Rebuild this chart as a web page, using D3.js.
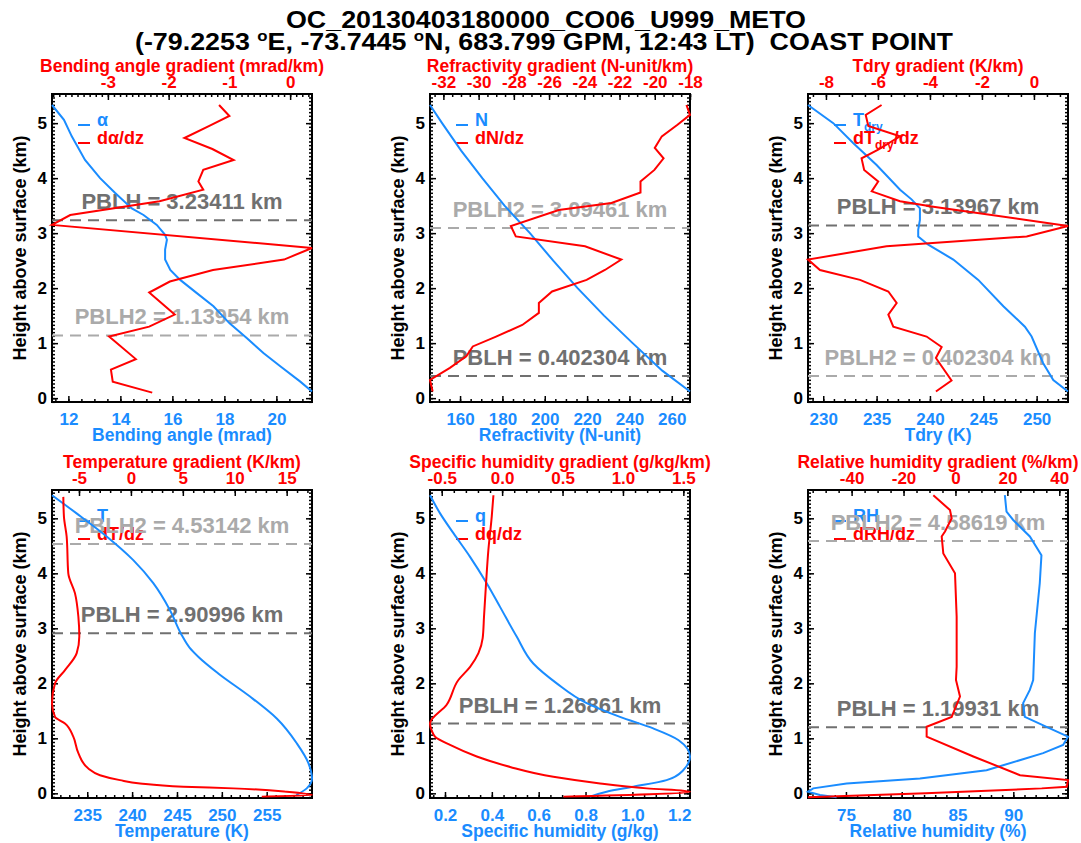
<!DOCTYPE html>
<html>
<head>
<meta charset="utf-8">
<script src="https://cdn.jsdelivr.net/npm/d3@7"></script>
<style>
  body { margin: 0; background: #fff; }
  svg text { font-family: "Liberation Sans", Arial, Helvetica, sans-serif; font-weight: bold; }
</style>
</head>
<body>
<svg id="chart" width="1081" height="843"></svg>
<script>
// values (height above surface in km)
var alphaH = [5.33, 5.06, 4.76, 4.33, 4.0, 3.73, 3.45, 3.33, 3.15, 2.97, 2.88, 2.70, 2.52, 2.33, 2.15, 1.91, 1.67, 1.36, 1.09, 0.82, 0.58, 0.30, 0.12];
var alphaV = [11.37, 11.83, 12.13, 12.64, 13.22, 13.8, 14.44, 14.89, 15.4, 15.72, 15.79, 15.72, 15.72, 15.92, 16.3, 16.94, 17.58, 18.2, 18.87, 19.5, 20.15, 20.92, 21.37];
var dAlphaH = [5.33, 5.13, 4.95, 4.73, 4.53, 4.33, 4.15, 3.94, 3.79, 3.58, 3.33, 3.15, 2.73, 2.52, 2.33, 2.12, 1.92, 1.52, 1.30, 1.12, 0.71, 0.52, 0.30, 0.10];
var dAlphaV = [-1.17, -1.0, -1.33, -1.74, -1.28, -0.93, -1.43, -1.51, -1.43, -2.15, -3.62, -3.92, 0.36, -0.1, -1.27, -1.98, -2.32, -1.9, -2.32, -2.98, -2.54, -2.95, -2.92, -2.27];

var refrH = [5.33, 5.0, 4.5, 4.0, 3.5, 3.0, 2.5, 2.0, 1.5, 1.0, 0.5, 0.12];
var refrV = [145.8, 151.5, 160.5, 170.5, 181.0, 193.0, 204.0, 215.5, 228.0, 241.5, 255.5, 268.6];
var dRefrH = [5.33, 5.15, 4.97, 4.76, 4.55, 4.36, 4.15, 3.94, 3.74, 3.55, 3.42, 3.13, 2.94, 2.76, 2.52, 2.33, 2.15, 1.94, 1.73, 1.55, 1.33, 1.12, 0.94, 0.76, 0.55, 0.33, 0.12];
var dRefrV = [-18.2, -18.0, -18.71, -19.6, -20.0, -19.5, -20.02, -20.81, -20.81, -22.46, -25.45, -28.17, -27.89, -23.96, -21.9, -22.83, -23.87, -25.83, -26.58, -26.58, -27.52, -29.01, -30.33, -30.7, -31.63, -32.76, -32.61];

var tdryH = [5.33, 5.0, 4.64, 4.24, 3.79, 3.61, 3.45, 3.24, 3.06, 2.94, 2.79, 2.52, 2.15, 1.67, 1.30, 1.12, 0.64, 0.33, 0.12];
var tdryV = [228.57, 230.94, 232.8, 235.0, 237.2, 238.3, 239.06, 239.06, 238.9, 238.9, 239.84, 242.19, 244.53, 246.88, 248.9, 249.53, 250.6, 251.56, 252.94];
var dTdryH = [5.33, 5.15, 4.95, 4.76, 4.52, 4.36, 4.15, 3.94, 3.76, 3.58, 3.48, 3.13, 2.94, 2.76, 2.52, 2.33, 2.15, 1.94, 1.73, 1.52, 1.30, 1.12, 0.93, 0.73, 0.32, 0.12];
var dTdryV = [-5.86, -6.47, -6.37, -5.15, -5.99, -6.63, -6.53, -5.99, -6.24, -5.15, -3.87, 1.31, -0.28, -5.67, -8.69, -8.23, -6.69, -5.6, -5.28, -5.6, -5.41, -4.13, -3.55, -3.77, -3.17, -3.77];

var tempH = [5.42, 5.09, 4.67, 4.24, 3.82, 3.33, 2.88, 2.65, 2.48, 2.18, 1.76, 1.36, 0.91, 0.55, 0.27, 0.09, -0.03];
var tempV = [231.07, 233.81, 237.16, 240.13, 242.36, 244.22, 245.52, 246.4, 247.4, 249.6, 253.14, 256.12, 258.35, 259.65, 260.05, 259.46, 258.3];
var dTempH = [5.39, 5.03, 4.67, 4.0, 3.64, 3.21, 2.85, 2.55, 2.24, 2.0, 1.64, 1.39, 1.27, 1.03, 0.73, 0.45, 0.33, 0.24, 0.18, 0.12, 0.09, 0.03, -0.03, -0.06];
var dTempV = [-6.51, -6.45, -6.19, -6.03, -5.39, -5.06, -4.97, -5.22, -6.35, -7.31, -7.6, -7.31, -6.35, -5.55, -5.06, -4.1, -2.98, -1.05, 0.88, 5.05, 9.87, 15.0, 17.44, 12.6];

var shumH = [5.42, 5.09, 4.73, 4.30, 3.82, 3.39, 2.85, 2.36, 2.0, 1.64, 1.39, 1.18, 0.97, 0.67, 0.42, 0.24, 0.12, 0.03, -0.06];
var shumV = [0.136, 0.179, 0.236, 0.307, 0.378, 0.435, 0.506, 0.577, 0.677, 0.805, 0.947, 1.089, 1.196, 1.246, 1.217, 1.146, 1.004, 0.89, 0.819];
var dShumH = [5.42, 5.03, 4.42, 3.82, 3.21, 2.82, 2.55, 2.30, 2.06, 1.61, 1.27, 1.10, 1.03, 0.88, 0.67, 0.48, 0.30, 0.18, 0.09, 0.03, -0.06];
var dShumV = [-0.072, -0.086, -0.114, -0.133, -0.15, -0.161, -0.196, -0.265, -0.362, -0.459, -0.597, -0.575, -0.555, -0.431, -0.21, 0.066, 0.424, 0.811, 1.197, 1.555, 0.507];

var rhH = [5.42, 5.12, 4.97, 4.67, 4.33, 3.82, 2.91, 2.06, 1.88, 1.64, 1.39, 1.18, 1.03, 0.88, 0.73, 0.42, 0.27, 0.18, 0.09, 0.03, -0.03, -0.07];
var rhV = [89.24, 89.39, 89.99, 91.48, 92.52, 92.37, 91.93, 91.78, 91.48, 90.88, 91.03, 93.27, 94.9, 94.46, 92.67, 87.6, 81.63, 75.06, 72.07, 71.6, 72.67, 74.16];
var dRhH = [5.42, 5.15, 5.0, 4.76, 4.67, 4.36, 4.0, 3.21, 2.30, 2.06, 1.76, 1.39, 1.21, 1.03, 0.67, 0.33, 0.24, 0.12, 0.09, 0.0, -0.07];
var dRhV = [-8.53, -2.11, -1.46, -4.03, -5.3, -4.68, -0.18, 0.46, 0.46, 0.2, 1.75, -1.46, -11.1, -11.1, 6.88, 24.87, 43.35, 42.9, 33.23, -11.5, -56.8];

// PBLH from the profile and second estimate, one per panel
var pblhMain = [3.23411, 0.402304, 3.13967, 2.90996, 1.26861, 1.19931];
var pblhSecond = [1.13954, 3.09461, 0.402304, 4.53142, null, 4.58619];

// tick labels of each panel
var bottomTicks = [[12, 14, 16, 18, 20], [160, 180, 200, 220, 240, 260], [230, 235, 240, 245, 250],
  [235, 240, 245, 250, 255], [0.2, 0.4, 0.6, 0.8, 1.0, 1.2], [75, 80, 85, 90]];
var topTicks = [[-3, -2, -1, 0], [-32, -30, -28, -26, -24, -22, -20, -18], [-8, -6, -4, -2, 0],
  [-5, 0, 5, 10, 15], [-0.5, 0.0, 0.5, 1.0, 1.5], [-40, -20, 0, 20, 40]];
var heightTicks = [0, 1, 2, 3, 4, 5];

var bottomTitles = ["Bending angle (mrad)", "Refractivity (N-unit)", "Tdry (K)",
  "Temperature (K)", "Specific humidity (g/kg)", "Relative humidity (%)"];
var topTitles = ["Bending angle gradient (mrad/km)", "Refractivity gradient (N-unit/km)", "Tdry gradient (K/km)",
  "Temperature gradient (K/km)", "Specific humidity gradient (g/kg/km)", "Relative humidity gradient (%/km)"];

var BLUE = "#1a8cff", RED = "#ff0000", DARK = "#707070", LIGHT = "#aaaaaa";
var PW = 260, PH = 308;
var colX = [52, 430, 808];
var rowY = [94, 490];
var rowYDom = [[-0.07, 5.53], [-0.085, 5.515]];

var svg = d3.select("#chart");

var panels = [
  { prof: [alphaH, alphaV], grad: [dAlphaH, dAlphaV], xMinor: 0.5, gMinor: 0.1, dec: [0, 0], smooth: false,
    legend: [[["α"]], [["dα/dz"]]] },
  { prof: [refrH, refrV], grad: [dRefrH, dRefrV], xMinor: 5, gMinor: 0.5, dec: [0, 0], smooth: false,
    legend: [[["N"]], [["dN/dz"]]] },
  { prof: [tdryH, tdryV], grad: [dTdryH, dTdryV], xMinor: 1, gMinor: 0.5, dec: [0, 0], smooth: false,
    legend: [[["T"], ["dry", 1]], [["dT"], ["dry", 1], ["/dz"]]] },
  { prof: [tempH, tempV], grad: [dTempH, dTempV], xMinor: 1, gMinor: 1, dec: [0, 0], smooth: true,
    legend: [[["T"]], [["dT/dz"]]] },
  { prof: [shumH, shumV], grad: [dShumH, dShumV], xMinor: 0.05, gMinor: 0.1, dec: [1, 1], smooth: true,
    legend: [[["q"]], [["dq/dz"]]] },
  { prof: [rhH, rhV], grad: [dRhH, dRhV], xMinor: 1, gMinor: 5, dec: [0, 0], smooth: false,
    legend: [[["RH"]], [["dRH/dz"]]] }
];

function minorVals(dom, step) {
  return d3.range(Math.ceil(dom[0] / step), Math.floor(dom[1] / step) + 1).map((i) => i * step);
}

function styleAxis(sel, color, size) {
  sel.select(".domain").remove();
  sel.selectAll("line").attr("stroke", "#000").attr("stroke-width", 1.5);
  if (size) {
    sel.selectAll("text").attr("fill", color).attr("font-size", size);
  } else {
    sel.selectAll("text").remove(); // tick marks only
  }
}

function drawPanel(p, i) {
  var row = Math.floor(i / 3), col = i % 3;
  var g = svg.append("g").attr("transform", `translate(${colX[col]},${rowY[row]})`);

  // axis ranges follow the data extent (IDL xstyle=1)
  var x = d3.scaleLinear().domain(d3.extent(p.prof[1])).range([0, PW]);
  var xg = d3.scaleLinear().domain(d3.extent(p.grad[1])).range([0, PW]);
  var y = d3.scaleLinear().domain(rowYDom[row]).range([PH, 0]);

  // minor ticks
  g.append("g").attr("transform", `translate(0,${PH})`)
    .call(d3.axisBottom(x).tickValues(minorVals(x.domain(), p.xMinor)).tickSize(-3))
    .call(styleAxis, "#000", 0);
  g.append("g")
    .call(d3.axisTop(xg).tickValues(minorVals(xg.domain(), p.gMinor)).tickSize(-3))
    .call(styleAxis, "#000", 0);
  g.append("g")
    .call(d3.axisLeft(y).tickValues(minorVals(y.domain(), 1 / 15)).tickSize(-3))
    .call(styleAxis, "#000", 0);
  g.append("g").attr("transform", `translate(${PW},0)`)
    .call(d3.axisRight(y).tickValues(minorVals(y.domain(), 1 / 15)).tickSize(-3))
    .call(styleAxis, "#000", 0);

  // major ticks + labels
  g.append("g").attr("transform", `translate(0,${PH})`)
    .call(d3.axisBottom(x).tickValues(bottomTicks[i]).tickSizeInner(-6).tickSizeOuter(0).tickPadding(11)
      .tickFormat((d) => d.toFixed(p.dec[0])))
    .call(styleAxis, BLUE, 17);
  g.append("g")
    .call(d3.axisTop(xg).tickValues(topTicks[i]).tickSizeInner(-6).tickSizeOuter(0).tickPadding(6)
      .tickFormat((d) => d.toFixed(p.dec[1])))
    .call(styleAxis, RED, 17);
  g.append("g")
    .call(d3.axisLeft(y).tickValues(heightTicks).tickSizeInner(-6).tickSizeOuter(0).tickPadding(5)
      .tickFormat(d3.format("d")))
    .call(styleAxis, "#000", 17);
  g.append("g").attr("transform", `translate(${PW},0)`)
    .call(d3.axisRight(y).tickValues(heightTicks).tickSizeInner(-6).tickSizeOuter(0))
    .call(styleAxis, "#000", 0);

  g.append("rect").attr("width", PW).attr("height", PH)
    .attr("fill", "none").attr("stroke", "#000").attr("stroke-width", 2);

  // axis titles
  g.append("text").attr("x", PW / 2).attr("y", PH + 39).attr("text-anchor", "middle")
    .attr("fill", BLUE).attr("font-size", 17.5).text(bottomTitles[i]);
  g.append("text").attr("x", PW / 2).attr("y", -22).attr("text-anchor", "middle")
    .attr("fill", RED).attr("font-size", 17.5).text(topTitles[i]);
  g.append("text").attr("transform", `translate(-26,${PH / 2})rotate(-90)`).attr("text-anchor", "middle")
    .attr("fill", "#000").attr("font-size", 18).text("Height above surface (km)");

  // legend
  p.legend.forEach((parts, k) => {
    var ly = 31 + k * 18;
    var color = k === 0 ? BLUE : RED;
    g.append("line").attr("x1", 26).attr("x2", 38).attr("y1", ly).attr("y2", ly)
      .attr("stroke", color).attr("stroke-width", 2);
    var t = g.append("text").attr("x", 45).attr("y", ly + 6).attr("fill", color).attr("font-size", 18);
    parts.forEach((part) => {
      if (part[1]) {
        t.append("tspan").attr("dy", 5).attr("font-size", 12).text(part[0]);
      } else {
        t.append("tspan").attr("dy", t.selectAll("tspan").size() ? -5 : 0).text(part[0]);
      }
    });
  });

  // PBLH markers
  [[pblhMain[i], "PBLH", DARK], [pblhSecond[i], "PBLH2", LIGHT]].forEach((b) => {
    if (b[0] == null) return;
    g.append("line").attr("x1", 0).attr("x2", PW).attr("y1", y(b[0])).attr("y2", y(b[0]))
      .attr("stroke", b[2]).attr("stroke-width", 2).attr("stroke-dasharray", "11,7");
    g.append("text").attr("x", PW / 2).attr("y", y(b[0]) - 11).attr("text-anchor", "middle")
      .attr("fill", b[2]).attr("font-size", 22).text(`${b[1]} = ${b[0]} km`);
  });

  // profile and its gradient
  var curve = p.smooth ? d3.curveMonotoneY : d3.curveLinear;
  var lineP = d3.line().curve(curve).x((d) => x(d[1])).y((d) => y(d[0]));
  var lineG = d3.line().curve(curve).x((d) => xg(d[1])).y((d) => y(d[0]));
  g.append("path").datum(d3.zip(p.prof[0], p.prof[1])).attr("d", lineP)
    .attr("fill", "none").attr("stroke", BLUE).attr("stroke-width", 2);
  g.append("path").datum(d3.zip(p.grad[0], p.grad[1])).attr("d", lineG)
    .attr("fill", "none").attr("stroke", RED).attr("stroke-width", 2);
}

panels.forEach(drawPanel);

// title
svg.append("text").attr("x", 546).attr("y", 28).attr("text-anchor", "middle").attr("font-size", 24)
  .attr("textLength", 520).attr("lengthAdjust", "spacingAndGlyphs")
  .text("OC_20130403180000_CO06_U999_METO");
var sub = svg.append("text").attr("x", 544).attr("y", 50).attr("text-anchor", "middle").attr("font-size", 24)
  .attr("textLength", 818).attr("lengthAdjust", "spacingAndGlyphs").style("white-space", "pre");
sub.append("tspan").text("(-79.2253 ");
sub.append("tspan").attr("dy", -9).attr("font-size", 15).text("o");
sub.append("tspan").attr("dy", 9).text("E, -73.7445 ");
sub.append("tspan").attr("dy", -9).attr("font-size", 15).text("o");
sub.append("tspan").attr("dy", 9).text("N, 683.799 GPM, 12:43 LT)  COAST POINT");
</script>
</body>
</html>
